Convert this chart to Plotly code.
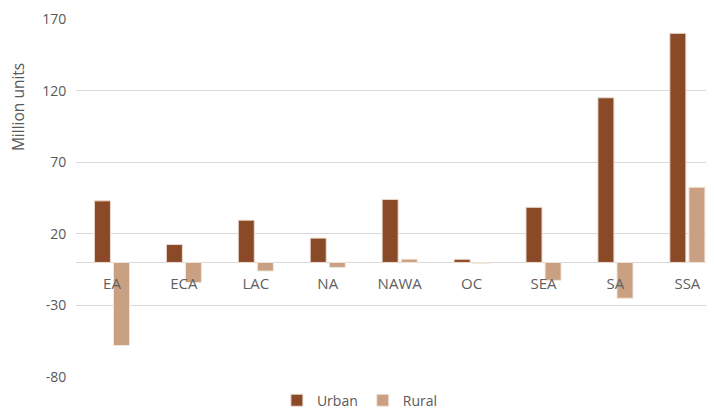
import plotly.graph_objects as go

categories = ["EA", "ECA", "LAC", "NA", "NAWA", "OC", "SEA", "SA", "SSA"]
urban = [43, 12.5, 29.5, 17, 44, 2.2, 38.5, 115, 160]
rural = [-58, -14, -6, -3.5, 2.3, -0.7, -12.5, -25, 52.5]
y_tick_values = [-80, -30, 20, 70, 120, 170]
y_tick_labels = ["-80", "-30", "20", "70", "120", "170"]

URBAN_COLOR = "#8B4A27"
RURAL_COLOR = "#C9A082"

fig = go.Figure()
fig.add_trace(go.Bar(name="Urban", x=categories, y=urban,
                     marker=dict(color=URBAN_COLOR, line=dict(color="#EADBD0", width=1))))
fig.add_trace(go.Bar(name="Rural", x=categories, y=rural,
                     marker=dict(color=RURAL_COLOR, line=dict(color="#F1E6DC", width=1))))

# page body has an 8px default margin, so the figure is drawn 8px smaller
OFF = 8
W, H = 714 - OFF, 413 - OFF
ml, mr, mt, mb = 76 - OFF, 0, 19 - OFF, 36
ymin, ymax = -80, 170
zero_pos = (0 - ymin) / (ymax - ymin)
plot_w = W - ml - mr

fig.update_layout(
    width=W, height=H,
    margin=dict(l=ml, r=mr, t=mt, b=mb, autoexpand=False),
    plot_bgcolor="white", paper_bgcolor="white",
    barmode="group", bargap=0.47, bargroupgap=0.16,
    font=dict(family="Open Sans, Noto Sans, sans-serif", size=14, color="#595959"),
    xaxis=dict(
        range=[-0.5, 8.37], showgrid=False, showline=False, zeroline=False,
        anchor="free", position=zero_pos,
        ticks="outside", ticklen=8, tickcolor="rgba(0,0,0,0)",
        tickfont=dict(size=15, color="#606060"),
    ),
    yaxis=dict(
        range=[ymin, ymax], tickmode="array", tickvals=y_tick_values, ticktext=y_tick_labels,
        showgrid=True,
        gridcolor="#D9D9D9", gridwidth=1, zeroline=True, zerolinecolor="#D9D9D9",
        zerolinewidth=1, showline=False,
        tickfont=dict(size=14, color="#595959"),
        ticks="outside", ticklen=6, tickcolor="rgba(0,0,0,0)",
    ),
    legend=dict(orientation="h", x=0.445, xanchor="center", y=-0.066, yanchor="middle",
                font=dict(size=14, color="#595959"), itemwidth=30, traceorder="normal"),
    annotations=[dict(
        text="Million units", textangle=-90, showarrow=False,
        xref="paper", yref="y", x=-(ml - (18 - OFF)) / plot_w, y=108.5,
        xanchor="center", yanchor="middle",
        font=dict(size=15.5, color="#595959"),
    )],
)

fig.write_html("out.html")
